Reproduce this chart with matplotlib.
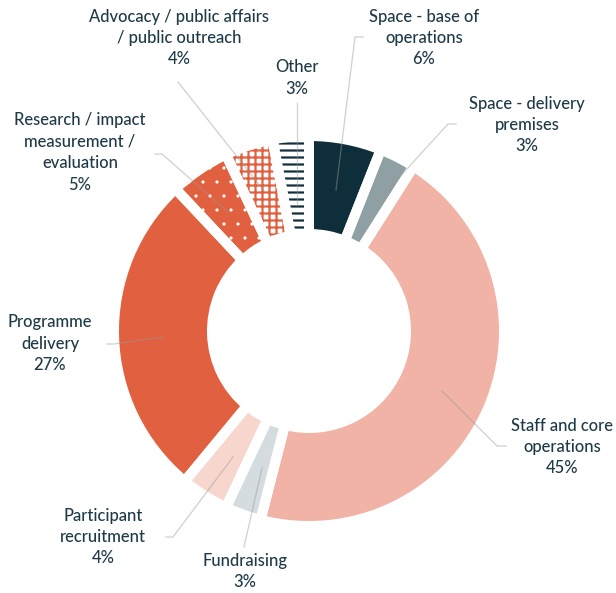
import matplotlib
matplotlib.use('Agg')
import matplotlib.pyplot as plt

# ---------------- data ----------------
categories = [
    "Space - base of\noperations",
    "Space - delivery\npremises",
    "Staff and core\noperations",
    "Fundraising",
    "Participant\nrecruitment",
    "Programme\ndelivery",
    "Research / impact\nmeasurement /\nevaluation",
    "Advocacy / public affairs\n/ public outreach",
    "Other",
]
values = [6, 3, 45, 3, 4, 27, 5, 4, 3]

# ---------------- style ----------------
NAVY = '#0F2E3B'
ORANGE = '#E0603F'
face_colors = [NAVY, '#8FA0A5', '#F0B3A5', '#D5DCDF', '#F7D6CE', ORANGE, ORANGE, 'white', 'white']
hatches = [None, None, None, None, None, None, '.', '++', '--']
hatch_colors = [NAVY, '#8FA0A5', '#F0B3A5', '#D5DCDF', '#F7D6CE', ORANGE, 'white', ORANGE, NAVY]
TEXT = '#1E3A48'

W, H = 616, 593
DPI = 84
PT = 72.0 / DPI  # points per pixel

plt.rcParams['font.family'] = ['Lato', 'DejaVu Sans']
plt.rcParams['hatch.linewidth'] = 2.0 * PT

fig = plt.figure(figsize=(W / DPI, H / DPI), dpi=DPI)
ax = fig.add_axes([0, 0, 1, 1])

cx, cy = 309, H - 331
R_out, R_in, gap = 190, 102, 10

wedges, _ = ax.pie(values, colors=face_colors, startangle=90, counterclock=False,
                   radius=R_out + gap / 2, center=(cx, cy),
                   wedgeprops=dict(width=R_out - R_in + gap, linewidth=0))
for w, h, hc in zip(wedges, hatches, hatch_colors):
    w.set_edgecolor(hc)
    w.set_linewidth(0)
    if h:
        w.set_hatch(h)
        if hasattr(w, 'set_hatch_linewidth'):
            w.set_hatch_linewidth((0.3 if h == '.' else 2.2) * PT)

# white gaps of constant width
ax.pie(values, startangle=90, counterclock=False,
       radius=R_out + gap / 2, center=(cx, cy),
       wedgeprops=dict(width=R_out - R_in + gap, facecolor='none',
                       edgecolor='white', linewidth=gap * PT, joinstyle='miter'))

# leader lines (pixel coords, y from top)
leaders = [
    [(363, 37), (355, 37), (336, 190)],
    [(456, 124), (448, 124), (375, 204)],
    [(506, 446), (497, 446), (442, 391)],
    [(244, 547), (262, 468)],
    [(166, 537), (173, 537), (233, 457)],
    [(107, 344), (114, 344), (163, 337)],
    [(155, 154), (162, 154), (228, 212)],
    [(178, 82), (265, 192)],
    [(297, 103), (297, 205)],
]
for pts in leaders:
    xs = [p[0] for p in pts]
    ys = [H - p[1] for p in pts]
    ax.plot(xs, ys, color='#9A9A9A', alpha=0.45, lw=1.3 * PT, zorder=5,
            solid_joinstyle='miter')

# labels (center of text block, pixel coords, y from top)
label_pos = [(424, 38), (527, 125), (562, 447), (245, 571.5), (103, 537),
             (50, 343.5), (80, 152.5), (179, 38), (297, 78)]
for name, v, (lx, ly) in zip(categories, values, label_pos):
    ax.text(lx, H - ly, f"{name}\n{v}%", ha='center', va='center',
            fontsize=16.5 * PT, color=TEXT, linespacing=1.42, zorder=6,
            fontweight='medium')

ax.set_xlim(0, W)
ax.set_ylim(0, H)
ax.set_aspect('auto')
ax.axis('off')

fig.savefig('out.png', dpi=DPI, facecolor='white')
